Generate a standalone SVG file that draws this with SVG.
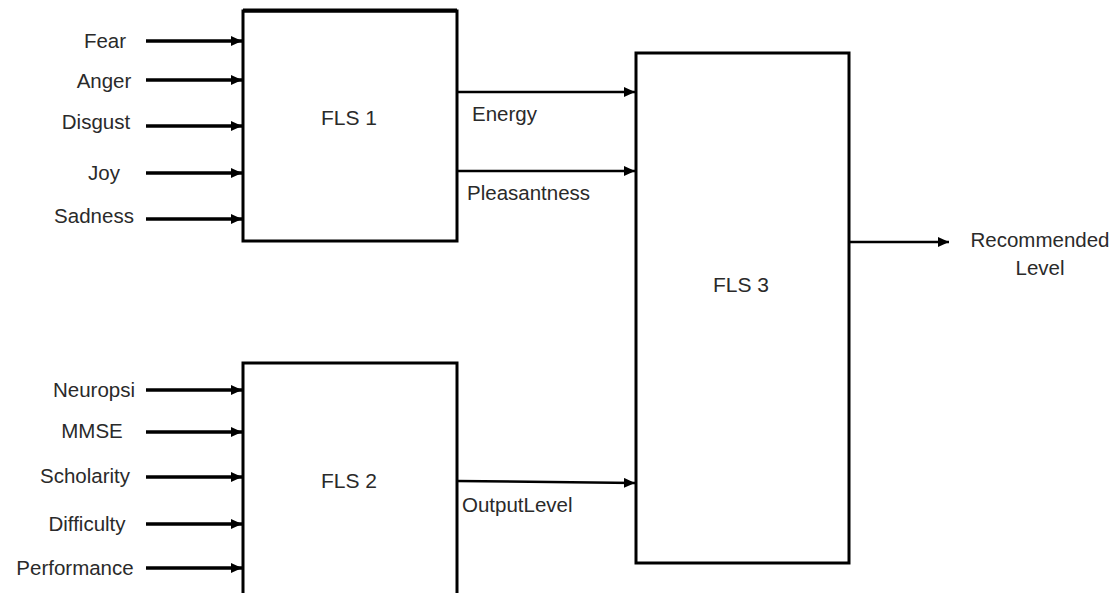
<svg xmlns="http://www.w3.org/2000/svg" width="1119" height="593" viewBox="0 0 1119 593">
<style>
.box{fill:#fff;stroke:#000;stroke-width:3}
.in{stroke:#000;stroke-width:3.5;fill:none}
.out{stroke:#000;stroke-width:2.5;fill:none}
text{font-family:"Liberation Sans",Arial,sans-serif;font-size:20.5px;fill:#2a2a2a}
.lbl{text-anchor:middle}
.big{font-size:21px;text-anchor:middle}
</style>
<defs>
<marker id="ah" markerWidth="11" markerHeight="10" refX="11" refY="5" orient="auto" markerUnits="userSpaceOnUse">
<path d="M0,0 L11,5 L0,10 Z" fill="#000"/>
</marker>
</defs>
<rect width="1119" height="593" fill="#fff"/>
<g id="connectors">
<line class="in" x1="146" y1="41" x2="242" y2="41" marker-end="url(#ah)"/>
<line class="in" x1="146" y1="80" x2="242" y2="80" marker-end="url(#ah)"/>
<line class="in" x1="146" y1="126" x2="242" y2="126" marker-end="url(#ah)"/>
<line class="in" x1="146" y1="173" x2="242" y2="173" marker-end="url(#ah)"/>
<line class="in" x1="146" y1="219" x2="242" y2="219" marker-end="url(#ah)"/>
<line class="in" x1="146" y1="390" x2="242" y2="390" marker-end="url(#ah)"/>
<line class="in" x1="146" y1="432" x2="242" y2="432" marker-end="url(#ah)"/>
<line class="in" x1="146" y1="477" x2="242" y2="477" marker-end="url(#ah)"/>
<line class="in" x1="146" y1="524" x2="242" y2="524" marker-end="url(#ah)"/>
<line class="in" x1="146" y1="568" x2="242" y2="568" marker-end="url(#ah)"/>
<line class="out" x1="457" y1="92" x2="635" y2="92" marker-end="url(#ah)"/>
<line class="out" x1="457" y1="171" x2="635" y2="171" marker-end="url(#ah)"/>
<line class="out" x1="457" y1="481" x2="635" y2="483" marker-end="url(#ah)"/>
<line class="out" x1="849" y1="242" x2="949" y2="242" marker-end="url(#ah)"/>
<text x="472" y="121">Energy</text>
<text x="467" y="200">Pleasantness</text>
<text x="462" y="512">OutputLevel</text>
</g>
<g id="fls1">
<rect class="box" x="243" y="11" width="214" height="230"/>
<line x1="243" y1="10.5" x2="457" y2="10.5" stroke="#000" stroke-width="4"/>
<text class="big" x="349" y="125">FLS 1</text>
</g>
<g id="fls2">
<rect class="box" x="243" y="363" width="214" height="240"/>
<text class="big" x="349" y="488">FLS 2</text>
</g>
<g id="fls3">
<rect class="box" x="636" y="53" width="213" height="510"/>
<text class="big" x="741" y="292">FLS 3</text>
</g>
<g id="inputs1">
<text class="lbl" x="105" y="48">Fear</text>
<text class="lbl" x="104" y="88">Anger</text>
<text class="lbl" x="96" y="129">Disgust</text>
<text class="lbl" x="104" y="180">Joy</text>
<text class="lbl" x="94" y="223">Sadness</text>
</g>
<g id="inputs2">
<text class="lbl" x="94" y="397">Neuropsi</text>
<text class="lbl" x="92" y="438">MMSE</text>
<text class="lbl" x="85" y="483">Scholarity</text>
<text class="lbl" x="87" y="531">Difficulty</text>
<text class="lbl" x="75" y="575">Performance</text>
</g>
<g id="output">
<text class="lbl" x="1040" y="247">Recommended</text>
<text class="lbl" x="1040" y="275">Level</text>
</g>
</svg>
